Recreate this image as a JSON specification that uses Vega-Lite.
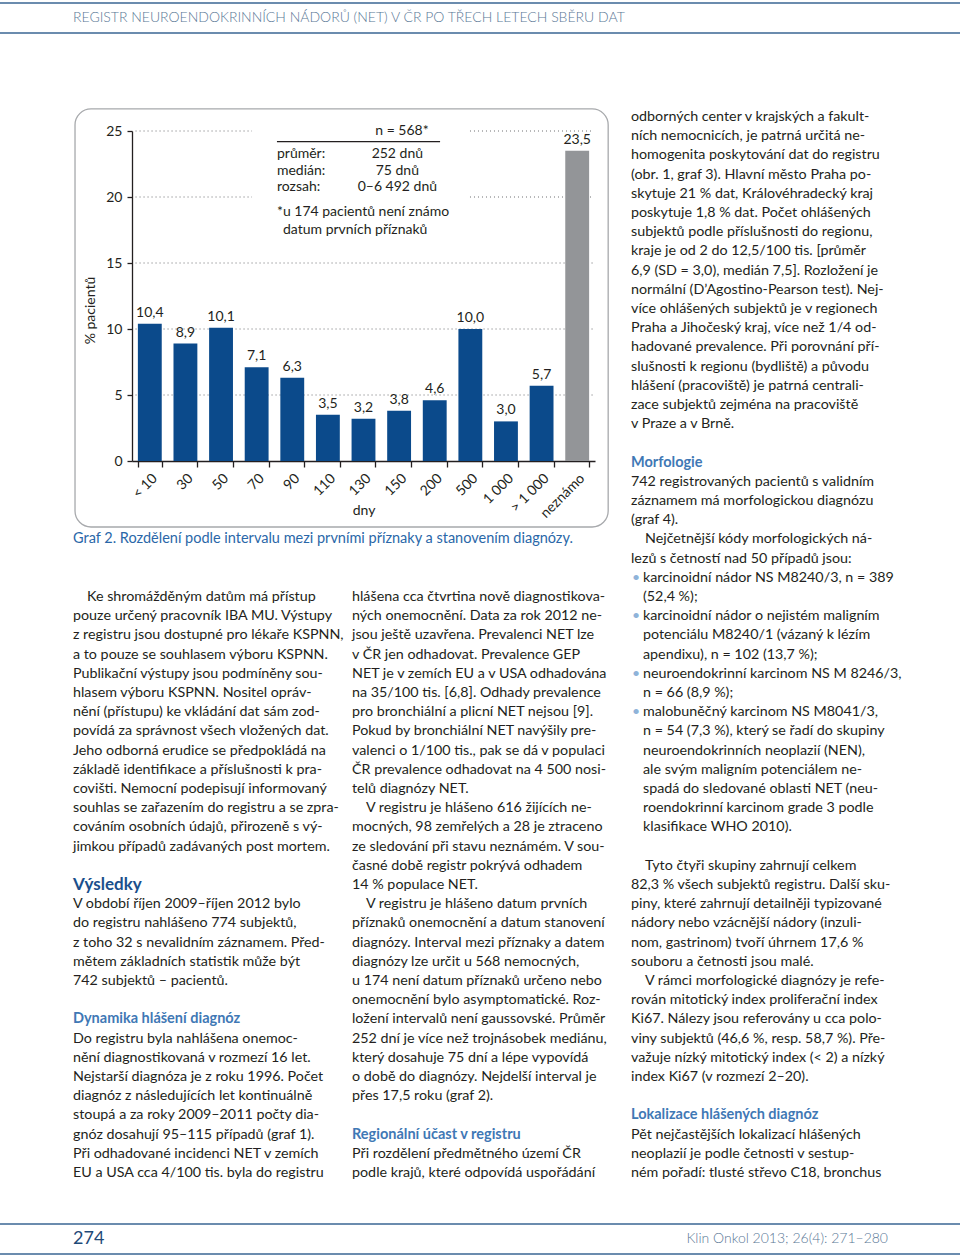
{
  "$schema": "https://vega.github.io/schema/vega-lite/v6.json",
  "width": 960,
  "height": 1257,
  "autosize": {"type": "none"},
  "padding": 0,
  "background": "white",
  "config": {"view": {"stroke": null}, "font": "Lato"},
  "datasets": {
    "header": [
      {"row": "top"},
      {"row": "bottom"},
      {"row": "text", "pos": "left", "text": "REGISTR NEUROENDOKRINNÍCH NÁDORŮ (NET) V ČR PO TŘECH LETECH SBĚRU DAT"}
    ],
    "footer": [
      {"row": "top"},
      {"row": "bottom"},
      {"row": "text", "pos": "left", "kind": "page", "text": "274"},
      {"row": "text", "pos": "right", "kind": "journal", "text": "Klin Onkol 2013; 26(4): 271–280"}
    ],
    "bars": [
      {"interval": "< 10", "value": 10.4, "label": "10,4", "known": "known"},
      {"interval": "30", "value": 8.9, "label": "8,9", "known": "known"},
      {"interval": "50", "value": 10.1, "label": "10,1", "known": "known"},
      {"interval": "70", "value": 7.1, "label": "7,1", "known": "known"},
      {"interval": "90", "value": 6.3, "label": "6,3", "known": "known"},
      {"interval": "110", "value": 3.5, "label": "3,5", "known": "known"},
      {"interval": "130", "value": 3.2, "label": "3,2", "known": "known"},
      {"interval": "150", "value": 3.8, "label": "3,8", "known": "known"},
      {"interval": "200", "value": 4.6, "label": "4,6", "known": "known"},
      {"interval": "500", "value": 10.0, "label": "10,0", "known": "known"},
      {"interval": "1 000", "value": 3.0, "label": "3,0", "known": "known"},
      {"interval": "> 1 000", "value": 5.7, "label": "5,7", "known": "known"},
      {"interval": "neznámo", "value": 23.5, "label": "23,5", "known": "unknown"}
    ],
    "frame": [
      {"ax": -1.6, "ax2": 13.37, "ay": 26.67, "ay2": -5.0}
    ],
    "grid": [
      {"ay": 5, "ax": 0.1, "ax2": 13.0},
      {"ay": 10, "ax": 0.1, "ax2": 13.0},
      {"ay": 15, "ax": 0.1, "ax2": 13.0},
      {"ay": 20, "ax": 0.1, "ax2": 3.37},
      {"ay": 20, "ax": 9.49, "ax2": 12.95},
      {"ay": 25, "ax": 0.1, "ax2": 3.37},
      {"ay": 25, "ax": 9.49, "ax2": 12.95}
    ],
    "underline": [
      {"ay": 24.19, "ax": 4.07, "ax2": 8.65}
    ],
    "notes": [
      {"kind": "center", "ax": 7.58, "ay": 25.0, "text": "n = 568*"},
      {"kind": "left", "ax": 4.07, "ay": 23.26, "text": "průměr:"},
      {"kind": "left", "ax": 4.07, "ay": 21.99, "text": "medián:"},
      {"kind": "left", "ax": 4.07, "ay": 20.76, "text": "rozsah:"},
      {"kind": "center", "ax": 7.45, "ay": 23.26, "text": "252 dnů"},
      {"kind": "center", "ax": 7.45, "ay": 21.99, "text": "75 dnů"},
      {"kind": "center", "ax": 7.45, "ay": 20.76, "text": "0–6 492 dnů"},
      {"kind": "left", "ax": 4.07, "ay": 18.86, "text": "*u 174 pacientů není známo"},
      {"kind": "left", "ax": 4.24, "ay": 17.5, "text": "datum prvních příznaků"}
    ],
    "body": [
      {"col": 1, "line": -3, "kind": "caption", "text": "Graf 2. Rozdělení podle intervalu mezi prvními příznaky a stanovením diagnózy."},
      {"col": 1, "line": 0, "kind": "indent", "text": "Ke shromážděným datům má přístup"},
      {"col": 1, "line": 1, "kind": "body", "text": "pouze určený pracovník IBA MU. Výstupy"},
      {"col": 1, "line": 2, "kind": "body", "text": "z registru jsou dostupné pro lékaře KSPNN,"},
      {"col": 1, "line": 3, "kind": "body", "text": "a to pouze se souhlasem výboru KSPNN."},
      {"col": 1, "line": 4, "kind": "body", "text": "Publikační výstupy jsou podmíněny sou-"},
      {"col": 1, "line": 5, "kind": "body", "text": "hlasem výboru KSPNN. Nositel opráv-"},
      {"col": 1, "line": 6, "kind": "body", "text": "nění (přístupu) ke vkládání dat sám zod-"},
      {"col": 1, "line": 7, "kind": "body", "text": "povídá za správnost všech vložených dat."},
      {"col": 1, "line": 8, "kind": "body", "text": "Jeho odborná erudice se předpokládá na"},
      {"col": 1, "line": 9, "kind": "body", "text": "základě identifikace a příslušnosti k pra-"},
      {"col": 1, "line": 10, "kind": "body", "text": "covišti. Nemocní podepisují informovaný"},
      {"col": 1, "line": 11, "kind": "body", "text": "souhlas se zařazením do registru a se zpra-"},
      {"col": 1, "line": 12, "kind": "body", "text": "cováním osobních údajů, přirozeně s vý-"},
      {"col": 1, "line": 13, "kind": "body", "text": "jimkou případů zadávaných post mortem."},
      {"col": 1, "line": 15, "kind": "head1", "text": "Výsledky"},
      {"col": 1, "line": 16, "kind": "body", "text": "V období říjen 2009–říjen 2012 bylo"},
      {"col": 1, "line": 17, "kind": "body", "text": "do registru nahlášeno 774 subjektů,"},
      {"col": 1, "line": 18, "kind": "body", "text": "z toho 32 s nevalidním záznamem. Před-"},
      {"col": 1, "line": 19, "kind": "body", "text": "mětem základních statistik může být"},
      {"col": 1, "line": 20, "kind": "body", "text": "742 subjektů – pacientů."},
      {"col": 1, "line": 22, "kind": "head", "text": "Dynamika hlášení diagnóz"},
      {"col": 1, "line": 23, "kind": "body", "text": "Do registru byla nahlášena onemoc-"},
      {"col": 1, "line": 24, "kind": "body", "text": "nění diagnostikovaná v rozmezí 16 let."},
      {"col": 1, "line": 25, "kind": "body", "text": "Nejstarší diagnóza je z roku 1996. Počet"},
      {"col": 1, "line": 26, "kind": "body", "text": "diagnóz z následujících let kontinuálně"},
      {"col": 1, "line": 27, "kind": "body", "text": "stoupá a za roky 2009–2011 počty dia-"},
      {"col": 1, "line": 28, "kind": "body", "text": "gnóz dosahují 95–115 případů (graf 1)."},
      {"col": 1, "line": 29, "kind": "body", "text": "Při odhadované incidenci NET v zemích"},
      {"col": 1, "line": 30, "kind": "body", "text": "EU a USA cca 4/100 tis. byla do registru"},
      {"col": 2, "line": 0, "kind": "body", "text": "hlášena cca čtvrtina nově diagnostikova-"},
      {"col": 2, "line": 1, "kind": "body", "text": "ných onemocnění. Data za rok 2012 ne-"},
      {"col": 2, "line": 2, "kind": "body", "text": "jsou ještě uzavřena. Prevalenci NET lze"},
      {"col": 2, "line": 3, "kind": "body", "text": "v ČR jen odhadovat. Prevalence GEP"},
      {"col": 2, "line": 4, "kind": "body", "text": "NET je v zemích EU a v USA odhadována"},
      {"col": 2, "line": 5, "kind": "body", "text": "na 35/100 tis. [6,8]. Odhady prevalence"},
      {"col": 2, "line": 6, "kind": "body", "text": "pro bronchiální a plicní NET nejsou [9]."},
      {"col": 2, "line": 7, "kind": "body", "text": "Pokud by bronchiální NET navýšily pre-"},
      {"col": 2, "line": 8, "kind": "body", "text": "valenci o 1/100 tis., pak se dá v populaci"},
      {"col": 2, "line": 9, "kind": "body", "text": "ČR prevalence odhadovat na 4 500 nosi-"},
      {"col": 2, "line": 10, "kind": "body", "text": "telů diagnózy NET."},
      {"col": 2, "line": 11, "kind": "indent", "text": "V registru je hlášeno 616 žijících ne-"},
      {"col": 2, "line": 12, "kind": "body", "text": "mocných, 98 zemřelých a 28 je ztraceno"},
      {"col": 2, "line": 13, "kind": "body", "text": "ze sledování při stavu neznámém. V sou-"},
      {"col": 2, "line": 14, "kind": "body", "text": "časné době registr pokrývá odhadem"},
      {"col": 2, "line": 15, "kind": "body", "text": "14 % populace NET."},
      {"col": 2, "line": 16, "kind": "indent", "text": "V registru je hlášeno datum prvních"},
      {"col": 2, "line": 17, "kind": "body", "text": "příznaků onemocnění a datum stanovení"},
      {"col": 2, "line": 18, "kind": "body", "text": "diagnózy. Interval mezi příznaky a datem"},
      {"col": 2, "line": 19, "kind": "body", "text": "diagnózy lze určit u 568 nemocných,"},
      {"col": 2, "line": 20, "kind": "body", "text": "u 174 není datum příznaků určeno nebo"},
      {"col": 2, "line": 21, "kind": "body", "text": "onemocnění bylo asymptomatické. Roz-"},
      {"col": 2, "line": 22, "kind": "body", "text": "ložení intervalů není gaussovské. Průměr"},
      {"col": 2, "line": 23, "kind": "body", "text": "252 dní je více než trojnásobek mediánu,"},
      {"col": 2, "line": 24, "kind": "body", "text": "který dosahuje 75 dní a lépe vypovídá"},
      {"col": 2, "line": 25, "kind": "body", "text": "o době do diagnózy. Nejdelší interval je"},
      {"col": 2, "line": 26, "kind": "body", "text": "přes 17,5 roku (graf 2)."},
      {"col": 2, "line": 28, "kind": "head", "text": "Regionální účast v registru"},
      {"col": 2, "line": 29, "kind": "body", "text": "Při rozdělení předmětného území ČR"},
      {"col": 2, "line": 30, "kind": "body", "text": "podle krajů, které odpovídá uspořádání"},
      {"col": 3, "line": -25, "kind": "body", "text": "odborných center v krajských a fakult-"},
      {"col": 3, "line": -24, "kind": "body", "text": "ních nemocnicích, je patrná určitá ne-"},
      {"col": 3, "line": -23, "kind": "body", "text": "homogenita poskytování dat do registru"},
      {"col": 3, "line": -22, "kind": "body", "text": "(obr. 1, graf 3). Hlavní město Praha po-"},
      {"col": 3, "line": -21, "kind": "body", "text": "skytuje 21 % dat, Královéhradecký kraj"},
      {"col": 3, "line": -20, "kind": "body", "text": "poskytuje 1,8 % dat. Počet ohlášených"},
      {"col": 3, "line": -19, "kind": "body", "text": "subjektů podle příslušnosti do regionu,"},
      {"col": 3, "line": -18, "kind": "body", "text": "kraje je od 2 do 12,5/100 tis. [průměr"},
      {"col": 3, "line": -17, "kind": "body", "text": "6,9 (SD = 3,0), medián 7,5]. Rozložení je"},
      {"col": 3, "line": -16, "kind": "body", "text": "normální (D’Agostino-Pearson test). Nej-"},
      {"col": 3, "line": -15, "kind": "body", "text": "více ohlášených subjektů je v regionech"},
      {"col": 3, "line": -14, "kind": "body", "text": "Praha a Jihočeský kraj, více než 1/4 od-"},
      {"col": 3, "line": -13, "kind": "body", "text": "hadované prevalence. Při porovnání pří-"},
      {"col": 3, "line": -12, "kind": "body", "text": "slušnosti k regionu (bydliště) a původu"},
      {"col": 3, "line": -11, "kind": "body", "text": "hlášení (pracoviště) je patrná centrali-"},
      {"col": 3, "line": -10, "kind": "body", "text": "zace subjektů zejména na pracoviště"},
      {"col": 3, "line": -9, "kind": "body", "text": "v Praze a v Brně."},
      {"col": 3, "line": -7, "kind": "head", "text": "Morfologie"},
      {"col": 3, "line": -6, "kind": "body", "text": "742 registrovaných pacientů s validním"},
      {"col": 3, "line": -5, "kind": "body", "text": "záznamem má morfologickou diagnózu"},
      {"col": 3, "line": -4, "kind": "body", "text": "(graf 4)."},
      {"col": 3, "line": -3, "kind": "indent", "text": "Nejčetnější kódy morfologických ná-"},
      {"col": 3, "line": -2, "kind": "body", "text": "lezů s četností nad 50 případů jsou:"},
      {"col": 3, "line": -1, "kind": "bullet", "text": "karcinoidní nádor NS M8240/3, n = 389"},
      {"col": 3, "line": 0, "kind": "bcont", "text": "(52,4 %);"},
      {"col": 3, "line": 1, "kind": "bullet", "text": "karcinoidní nádor o nejistém maligním"},
      {"col": 3, "line": 2, "kind": "bcont", "text": "potenciálu M8240/1 (vázaný k lézím"},
      {"col": 3, "line": 3, "kind": "bcont", "text": "apendixu), n = 102 (13,7 %);"},
      {"col": 3, "line": 4, "kind": "bullet", "text": "neuroendokrinní karcinom NS M 8246/3,"},
      {"col": 3, "line": 5, "kind": "bcont", "text": "n = 66 (8,9 %);"},
      {"col": 3, "line": 6, "kind": "bullet", "text": "malobuněčný karcinom NS M8041/3,"},
      {"col": 3, "line": 7, "kind": "bcont", "text": "n = 54 (7,3 %), který se řadí do skupiny"},
      {"col": 3, "line": 8, "kind": "bcont", "text": "neuroendokrinních neoplazií (NEN),"},
      {"col": 3, "line": 9, "kind": "bcont", "text": "ale svým maligním potenciálem ne-"},
      {"col": 3, "line": 10, "kind": "bcont", "text": "spadá do sledované oblasti NET (neu-"},
      {"col": 3, "line": 11, "kind": "bcont", "text": "roendokrinní karcinom grade 3 podle"},
      {"col": 3, "line": 12, "kind": "bcont", "text": "klasifikace WHO 2010)."},
      {"col": 3, "line": 14, "kind": "indent", "text": "Tyto čtyři skupiny zahrnují celkem"},
      {"col": 3, "line": 15, "kind": "body", "text": "82,3 % všech subjektů registru. Další sku-"},
      {"col": 3, "line": 16, "kind": "body", "text": "piny, které zahrnují detailněji typizované"},
      {"col": 3, "line": 17, "kind": "body", "text": "nádory nebo vzácnější nádory (inzuli-"},
      {"col": 3, "line": 18, "kind": "body", "text": "nom, gastrinom) tvoří úhrnem 17,6 %"},
      {"col": 3, "line": 19, "kind": "body", "text": "souboru a četnosti jsou malé."},
      {"col": 3, "line": 20, "kind": "indent", "text": "V rámci morfologické diagnózy je refe-"},
      {"col": 3, "line": 21, "kind": "body", "text": "rován mitotický index proliferační index"},
      {"col": 3, "line": 22, "kind": "body", "text": "Ki67. Nálezy jsou referovány u cca polo-"},
      {"col": 3, "line": 23, "kind": "body", "text": "viny subjektů (46,6 %, resp. 58,7 %). Pře-"},
      {"col": 3, "line": 24, "kind": "body", "text": "važuje nízký mitotický index (< 2) a nízký"},
      {"col": 3, "line": 25, "kind": "body", "text": "index Ki67 (v rozmezí 2–20)."},
      {"col": 3, "line": 27, "kind": "head", "text": "Lokalizace hlášených diagnóz"},
      {"col": 3, "line": 28, "kind": "body", "text": "Pět nejčastějších lokalizací hlášených"},
      {"col": 3, "line": 29, "kind": "body", "text": "neoplazií je podle četnosti v sestup-"},
      {"col": 3, "line": 30, "kind": "body", "text": "ném pořadí: tlusté střevo C18, bronchus"}
    ]
  },
  "layer": [
    {
      "data": {"name": "header"},
      "encoding": {
        "y": {"field": "row", "type": "nominal", "scale": {"type": "point", "domain": ["top", "text", "bottom"], "range": [3, 33], "padding": 0}, "axis": null}
      },
      "layer": [
        {
          "transform": [{"filter": "datum.row !== 'text'"}],
          "mark": {"type": "rule", "color": "#6b8cae", "strokeWidth": 2}
        },
        {
          "transform": [{"filter": "datum.row === 'text'"}],
          "mark": {"type": "text", "align": "left", "baseline": "middle", "fontSize": 14, "fontWeight": 300, "color": "#5a7896"},
          "encoding": {
            "x": {"field": "pos", "type": "nominal", "scale": {"type": "point", "domain": ["left", "right"], "range": [73, 888], "padding": 0}, "axis": null},
            "text": {"field": "text"}
          }
        }
      ]
    },
    {
      "data": {"name": "footer"},
      "encoding": {
        "y": {"field": "row", "type": "nominal", "scale": {"type": "point", "domain": ["top", "text", "bottom"], "range": [1224, 1254], "padding": 0}, "axis": null},
        "x": {"field": "pos", "type": "nominal", "scale": {"type": "point", "domain": ["left", "right"], "range": [73, 888], "padding": 0}, "axis": null}
      },
      "layer": [
        {
          "transform": [{"filter": "datum.row !== 'text'"}],
          "mark": {"type": "rule", "color": "#6b8cae", "strokeWidth": 2},
          "encoding": {"x": {"value": 0}, "x2": {"value": 960}}
        },
        {
          "transform": [{"filter": "datum.kind === 'page'"}],
          "mark": {"type": "text", "align": "left", "baseline": "middle", "fontSize": 18, "color": "#1f4a78"},
          "encoding": {"text": {"field": "text"}}
        },
        {
          "transform": [{"filter": "datum.kind === 'journal'"}],
          "mark": {"type": "text", "align": "right", "baseline": "middle", "fontSize": 14, "fontWeight": 300, "color": "#5a7896"},
          "encoding": {"text": {"field": "text"}}
        }
      ]
    },
    {
      "encoding": {
        "x": {"field": "ax", "type": "quantitative", "scale": {"domain": [0, 13], "range": [132, 595], "nice": false, "zero": false}, "axis": null},
        "y": {"field": "ay", "type": "quantitative", "scale": {"domain": [0, 25], "range": [461, 131], "nice": false, "zero": false}, "axis": null}
      },
      "layer": [
        {
          "data": {"name": "frame"},
          "mark": {"type": "rect", "fill": "white", "fillOpacity": 0, "stroke": "#a7a9ac", "strokeWidth": 1.3, "cornerRadius": 16},
          "encoding": {"x2": {"field": "ax2"}, "y2": {"field": "ay2"}}
        },
        {
          "data": {"name": "grid"},
          "mark": {"type": "rule", "color": "#6d6e71", "strokeWidth": 1, "strokeDash": [1, 3]},
          "encoding": {"x2": {"field": "ax2"}}
        },
        {
          "data": {"name": "underline"},
          "mark": {"type": "rule", "color": "#231f20", "strokeWidth": 1.2},
          "encoding": {"x2": {"field": "ax2"}}
        },
        {
          "data": {"name": "notes"},
          "transform": [{"filter": "datum.kind === 'left'"}],
          "mark": {"type": "text", "align": "left", "baseline": "middle", "fontSize": 14, "color": "#231f20"},
          "encoding": {"text": {"field": "text"}}
        },
        {
          "data": {"name": "notes"},
          "transform": [{"filter": "datum.kind === 'center'"}],
          "mark": {"type": "text", "align": "center", "baseline": "middle", "fontSize": 14, "color": "#231f20"},
          "encoding": {"text": {"field": "text"}}
        }
      ]
    },
    {
      "data": {"name": "bars"},
      "encoding": {
        "x": {
          "field": "interval", "type": "ordinal", "sort": null,
          "scale": {"type": "band", "domain": ["< 10", "30", "50", "70", "90", "110", "130", "150", "200", "500", "1 000", "> 1 000", "neznámo"], "range": [132, 595], "paddingInner": 0.33, "paddingOuter": 0.165},
          "axis": {
            "orient": "bottom", "offset": -796, "title": "dny", "grid": false,
            "labelAngle": -45, "labelFontSize": 14, "labelColor": "#231f20", "labelPadding": 4,
            "tickBand": "extent", "tickSize": 6, "tickColor": "#231f20", "tickWidth": 1.3,
            "domainColor": "#231f20", "domainWidth": 1.3,
            "titleFontSize": 14, "titleFontWeight": "normal", "titleColor": "#231f20", "titleY": 49, "titleBaseline": "middle"
          }
        },
        "y": {
          "field": "value", "type": "quantitative",
          "scale": {"domain": [0, 25], "range": [461, 131], "nice": false, "zero": false},
          "axis": {
            "orient": "left", "offset": -132, "values": [0, 5, 10, 15, 20, 25], "title": "% pacientů", "grid": false,
            "labelFontSize": 14, "labelColor": "#231f20", "labelPadding": 5,
            "tickSize": 5, "tickColor": "#231f20", "tickWidth": 1.3,
            "domainColor": "#231f20", "domainWidth": 1.3,
            "titleFontSize": 14, "titleFontWeight": "normal", "titleColor": "#231f20",
            "titleX": -42, "titleY": 310, "titleAngle": 270, "titleAlign": "center", "titleBaseline": "middle"
          }
        }
      },
      "layer": [
        {
          "mark": {"type": "bar"},
          "encoding": {
            "color": {"field": "known", "type": "nominal", "scale": {"domain": ["known", "unknown"], "range": ["#0b4a8b", "#939598"]}, "legend": null}
          }
        },
        {
          "mark": {"type": "text", "align": "center", "baseline": "alphabetic", "dy": -7, "fontSize": 14, "color": "#231f20"},
          "encoding": {"text": {"field": "label"}}
        }
      ]
    },
    {
      "data": {"name": "body"},
      "encoding": {
        "x": {"field": "col", "type": "quantitative", "scale": {"domain": [1, 3], "range": [73, 631], "nice": false, "zero": false}, "axis": null},
        "y": {"field": "line", "type": "quantitative", "scale": {"domain": [-25, 30], "range": [117, 1173], "nice": false, "zero": false}, "axis": null},
        "text": {"field": "text"}
      },
      "layer": [
        {
          "transform": [{"filter": "datum.kind === 'body'"}],
          "mark": {"type": "text", "align": "left", "baseline": "middle", "fontSize": 14.3, "color": "#231f20"}
        },
        {
          "transform": [{"filter": "datum.kind === 'indent'"}],
          "mark": {"type": "text", "align": "left", "baseline": "middle", "fontSize": 14.3, "color": "#231f20", "dx": 14}
        },
        {
          "transform": [{"filter": "datum.kind === 'bcont'"}],
          "mark": {"type": "text", "align": "left", "baseline": "middle", "fontSize": 14.3, "color": "#231f20", "dx": 12}
        },
        {
          "transform": [{"filter": "datum.kind === 'bullet'"}],
          "mark": {"type": "text", "align": "left", "baseline": "middle", "fontSize": 14.3, "color": "#231f20", "dx": 12}
        },
        {
          "transform": [{"filter": "datum.kind === 'bullet'"}],
          "mark": {"type": "text", "align": "left", "baseline": "middle", "fontSize": 14, "color": "#8fb3d9", "dx": 1},
          "encoding": {"text": {"value": "•"}}
        },
        {
          "transform": [{"filter": "datum.kind === 'head1'"}],
          "mark": {"type": "text", "align": "left", "baseline": "middle", "fontSize": 17, "fontWeight": "bold", "color": "#1b4f8c"}
        },
        {
          "transform": [{"filter": "datum.kind === 'head'"}],
          "mark": {"type": "text", "align": "left", "baseline": "middle", "fontSize": 14.5, "fontWeight": "bold", "color": "#3f78b5"}
        },
        {
          "transform": [{"filter": "datum.kind === 'caption'"}],
          "mark": {"type": "text", "align": "left", "baseline": "middle", "fontSize": 14.5, "color": "#2a67a8"}
        }
      ]
    }
  ],
  "resolve": {"scale": {"x": "independent", "y": "independent"}, "axis": {"x": "independent", "y": "independent"}}
}
